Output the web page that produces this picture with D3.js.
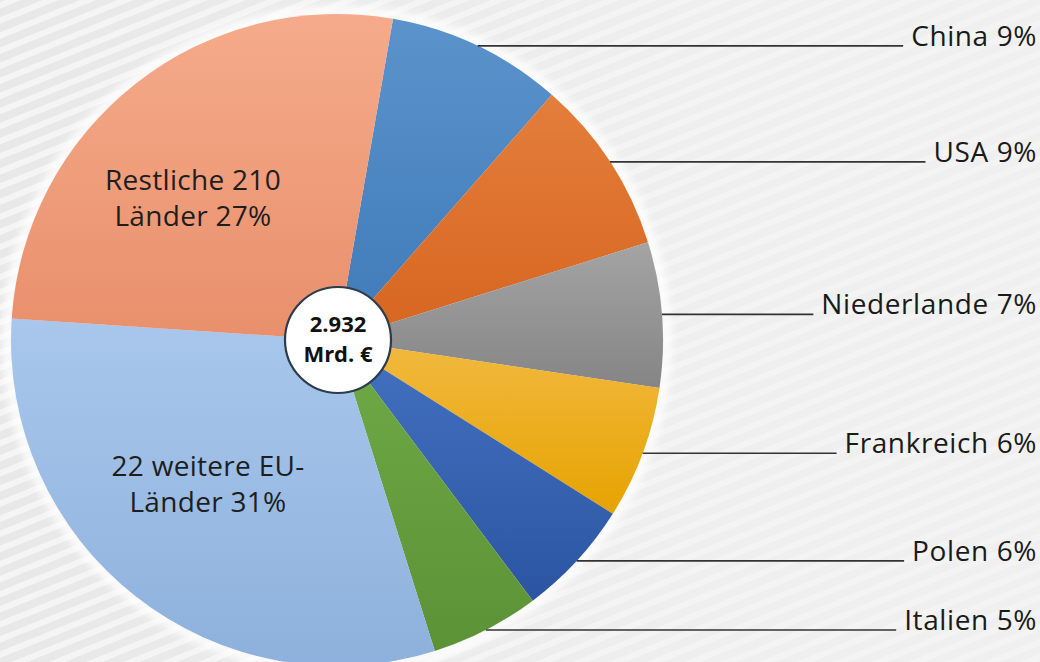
<!DOCTYPE html>
<html>
<head>
<meta charset="utf-8">
<script src="https://cdn.jsdelivr.net/npm/d3@7"></script>
<style>
  html, body { margin: 0; padding: 0; background: #ececec; }
  svg { display: block; }
  text { font-family: "Open Sans", "Noto Sans", sans-serif; }
</style>
</head>
<body>
<div id="chart"></div>
<script>
// Anteile, Reihenfolge im Uhrzeigersinn ab China
var names = ["China", "USA", "Niederlande", "Frankreich", "Polen", "Italien", "22 weitere EU-Länder", "Restliche 210 Länder"];
var shares = [8.7, 8.7, 7.2, 6.6, 5.8, 5.4, 30.9, 26.7];
var outerLabels = ["China 9%", "USA 9%", "Niederlande 7%", "Frankreich 6%", "Polen 6%", "Italien 5%", null, null];
var innerLabels = [null, null, null, null, null, null, ["22 weitere EU-", "Länder 31%"], ["Restliche 210", "Länder 27%"]];
var totalLabel = ["2.932", "Mrd. €"];

var colorTop = ["#5b93cc", "#e47e3c", "#a4a4a4", "#f2b940", "#4472c0", "#70aa46", "#a9c7ec", "#f5ab8b"];
var colorBottom = ["#3f7ab8", "#d6651f", "#858585", "#e6a300", "#2b55a3", "#5b9236", "#8db1dc", "#e98f6b"];

function init() {
    var w = 1040;
    var h = 662;
    var cx = 337, cy = 340, r = 326;
    var startAngle = 9.9 * Math.PI / 180;

    var svg = d3.select("#chart")
        .append("svg")
        .attr("width", w)
        .attr("height", h);

    var defs = svg.append("defs");

    // gestreifter Hintergrund
    var pat = defs.append("pattern")
        .attr("id", "stripes")
        .attr("patternUnits", "userSpaceOnUse")
        .attr("width", 14)
        .attr("height", 14)
        .attr("patternTransform", "rotate(-22)");
    pat.append("rect").attr("width", 14).attr("height", 14).attr("fill", "#e5e5e5");
    pat.append("rect").attr("y", 2).attr("width", 14).attr("height", 6).attr("fill", "#f5f5f5");

    var fade = defs.append("linearGradient").attr("id", "fade")
        .attr("x1", 0).attr("x2", 1).attr("y1", 0).attr("y2", 0);
    fade.append("stop").attr("offset", 0).attr("stop-color", "#f3f3f3").attr("stop-opacity", 0.2);
    fade.append("stop").attr("offset", 0.7).attr("stop-color", "#f3f3f3").attr("stop-opacity", 0.7);
    fade.append("stop").attr("offset", 1).attr("stop-color", "#f3f3f3").attr("stop-opacity", 0.75);

    svg.append("rect").attr("width", w).attr("height", h).attr("fill", "url(#stripes)");
    svg.append("rect").attr("width", w).attr("height", h).attr("fill", "url(#fade)");

    shares.forEach(function (d, i) {
        var g = defs.append("linearGradient").attr("id", "grad" + i)
            .attr("x1", 0).attr("x2", 0).attr("y1", 0).attr("y2", 1);
        g.append("stop").attr("offset", 0).attr("stop-color", colorTop[i]);
        g.append("stop").attr("offset", 1).attr("stop-color", colorBottom[i]);
    });

    var glow = defs.append("filter").attr("id", "glow")
        .attr("x", "-10%").attr("y", "-10%").attr("width", "120%").attr("height", "120%");
    glow.append("feGaussianBlur").attr("stdDeviation", 4);

    var pie = d3.pie()
        .sort(null)
        .value(function (d) { return d; })
        .startAngle(startAngle)
        .endAngle(startAngle + 2 * Math.PI);

    var arcs = pie(shares);

    var arc = d3.arc().innerRadius(0).outerRadius(r);

    var chart = svg.append("g").attr("transform", "translate(" + cx + "," + cy + ")");

    // weicher heller Rand um die Torte
    chart.append("circle")
        .attr("r", r + 3)
        .attr("fill", "none")
        .attr("stroke", "#ffffff")
        .attr("stroke-width", 9)
        .attr("filter", "url(#glow)");

    chart.selectAll("path.slice")
        .data(arcs)
        .enter()
        .append("path")
        .attr("class", "slice")
        .attr("d", arc)
        .attr("fill", function (d, i) { return "url(#grad" + i + ")"; });

    // Beschriftungen außen mit Führungslinien
    var labelRight = 1037;
    arcs.forEach(function (d, i) {
        if (!outerLabels[i]) return;
        var mid = (d.startAngle + d.endAngle) / 2;
        var p = d3.pointRadial(mid, r);
        var y = cy + p[1];
        var t = svg.append("text")
            .attr("x", labelRight)
            .attr("y", y)
            .attr("text-anchor", "end")
            .attr("font-size", 28)
            .attr("letter-spacing", 0.6)
            .attr("fill", "#1a1a1a")
            .text(outerLabels[i]);
        var tw = t.node().getComputedTextLength();
        svg.insert("line", "text")
            .attr("x1", cx + p[0])
            .attr("y1", y)
            .attr("x2", labelRight - tw - 8)
            .attr("y2", y)
            .attr("stroke", "#333333")
            .attr("stroke-width", 1.6);
    });

    // Beschriftungen innen
    var nudge = { 6: 2.5, 7: -8.5 };
    arcs.forEach(function (d, i) {
        if (!innerLabels[i]) return;
        var mid = (d.startAngle + d.endAngle) / 2 + (nudge[i] || 0) * Math.PI / 180;
        var p = d3.pointRadial(mid, 198);
        var t = chart.append("text")
            .attr("text-anchor", "middle")
            .attr("font-size", 28)
            .attr("letter-spacing", 0.3)
            .attr("fill", "#1e1e1e");
        innerLabels[i].forEach(function (line, k) {
            t.append("tspan")
                .attr("x", p[0])
                .attr("y", p[1] + (k === 0 ? -14 : 22))
                .text(line);
        });
    });

    // Mittelkreis mit Gesamtsumme
    chart.append("circle")
        .attr("cx", 1)
        .attr("r", 53)
        .attr("fill", "#ffffff")
        .attr("stroke", "#2c3b4d")
        .attr("stroke-width", 2.2);

    chart.selectAll("text.total")
        .data(totalLabel)
        .enter()
        .append("text")
        .attr("class", "total")
        .attr("x", 1)
        .attr("y", function (d, k) { return k === 0 ? -8 : 22; })
        .attr("text-anchor", "middle")
        .attr("font-size", 22)
        .attr("font-weight", "bold")
        .attr("fill", "#111111")
        .text(function (d) { return d; });
}

window.onload = init;
</script>
</body>
</html>
